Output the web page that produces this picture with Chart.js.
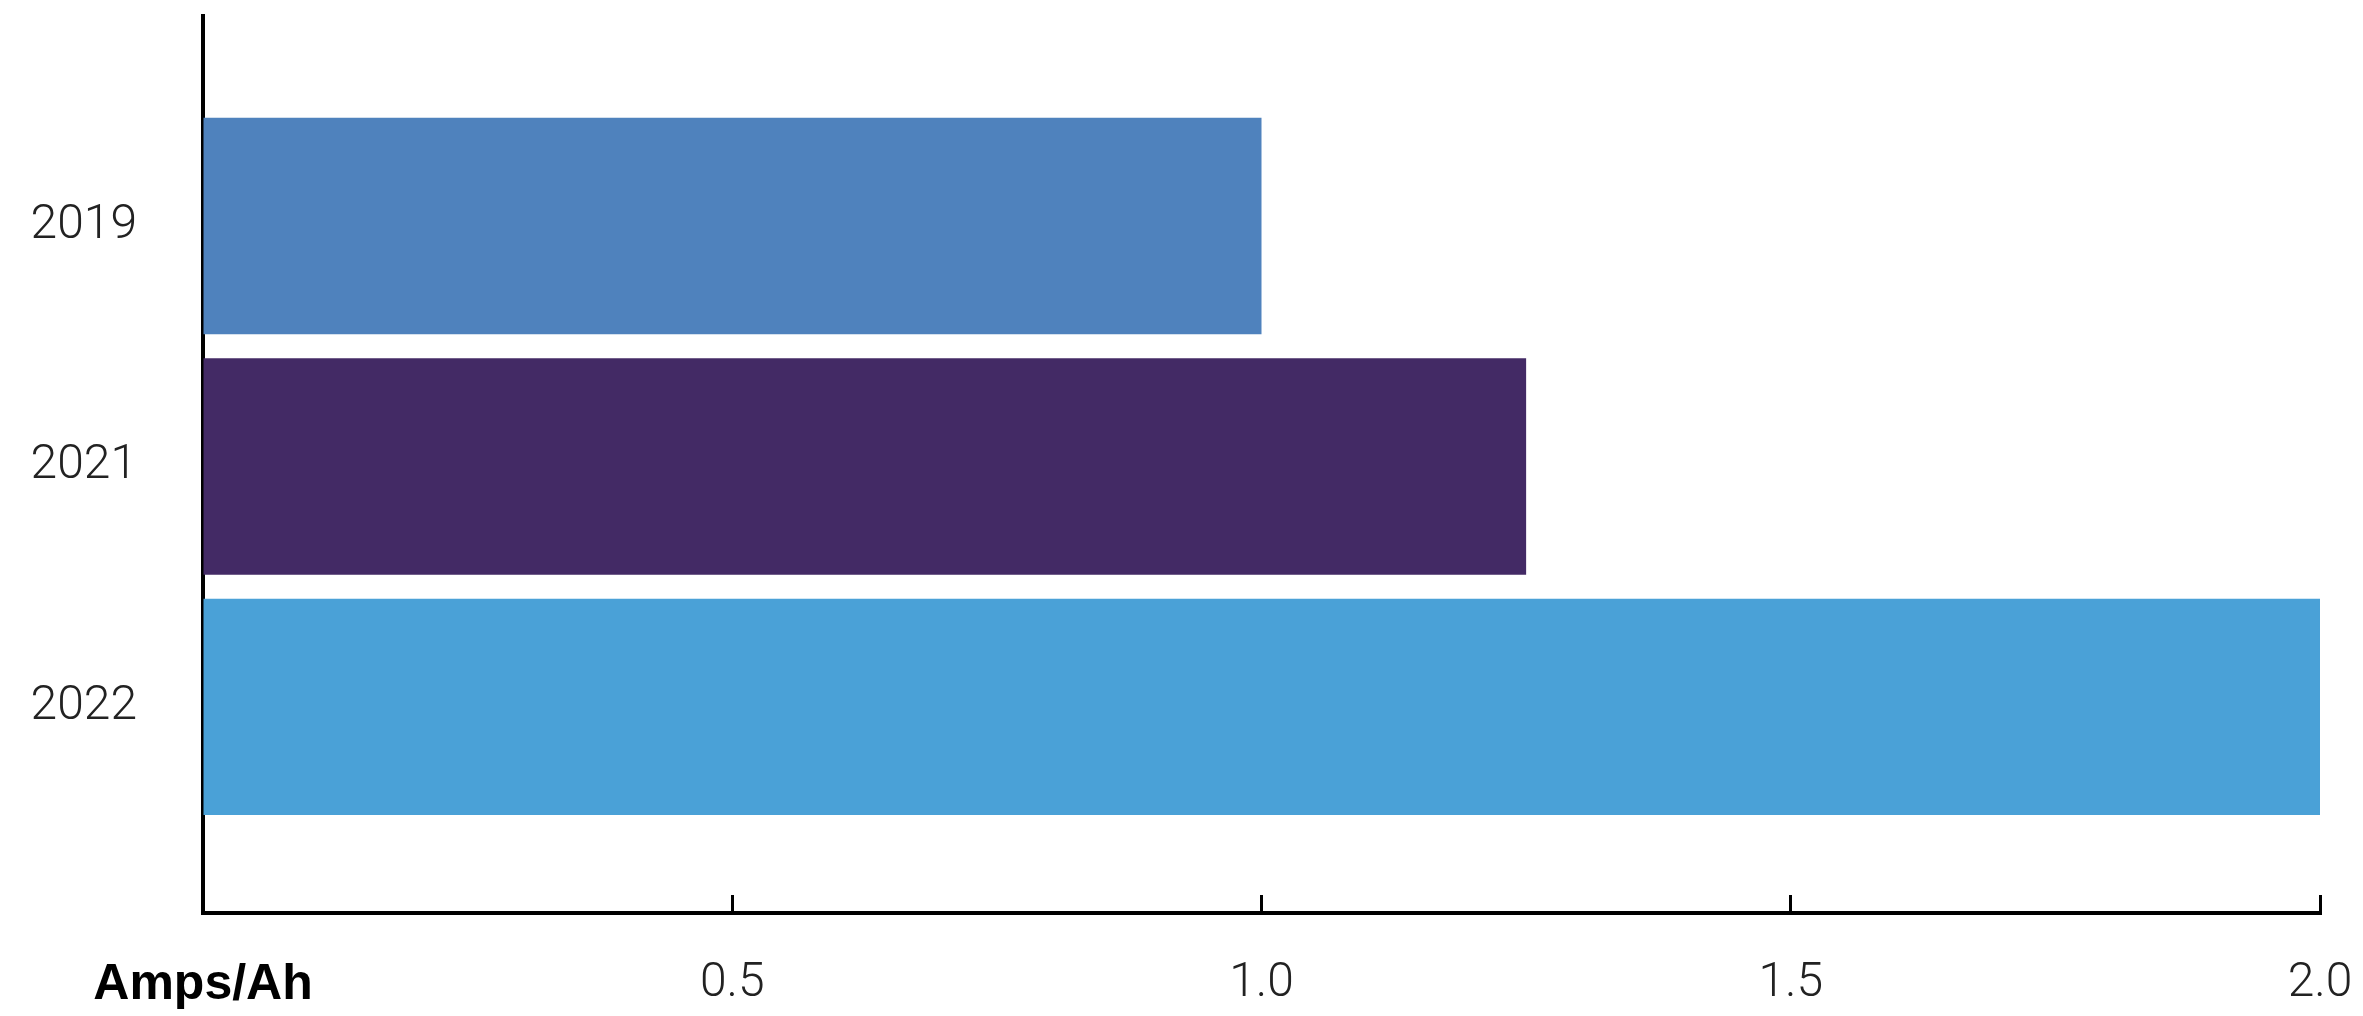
<!DOCTYPE html>
<html>
<head>
<meta charset="utf-8">
<script src="https://cdn.jsdelivr.net/npm/chart.js@4/dist/chart.umd.min.js"></script>
<style>
  html, body { margin: 0; padding: 0; background: #fff; }
  canvas { display: block; }
</style>
</head>
<body>
<canvas id="ampsChart" width="2363" height="1016"></canvas>
<script>
const years = ['2019', '2021', '2022'];
const ampsPerAh = [1.0, 1.25, 2.0];
const barColors = ['#4f82bd', '#432a65', '#4aa1d7'];
const xTicks = [0, 0.5, 1.0, 1.5, 2.0];
const xTitle = 'Amps/Ah';

const labelFont = "'Roboto', 'Liberation Sans', sans-serif";

// year rows sit on a numeric index axis so the axis can run past the bars
const points = ampsPerAh.map((v, i) => ({ x: v, y: i }));

const ctx = document.getElementById('ampsChart').getContext('2d');

new Chart(ctx, {
  type: 'bar',
  data: {
    datasets: [{
      data: points,
      backgroundColor: barColors,
      borderWidth: 0,
      barPercentage: 0.9,
      categoryPercentage: 1.0
    }]
  },
  options: {
    indexAxis: 'y',
    responsive: false,
    devicePixelRatio: 1,
    animation: false,
    layout: {
      padding: { top: 16, right: 43, left: 0, bottom: 0 }
    },
    plugins: {
      legend: { display: false },
      tooltip: { enabled: false }
    },
    scales: {
      x: {
        type: 'linear',
        min: 0,
        max: 2,
        afterBuildTicks: (scale) => {
          scale.ticks = xTicks.map(v => ({ value: v }));
        },
        afterFit: (scale) => {
          scale.height = 103;
          scale.paddingLeft = 0;
          scale.paddingRight = 0;
        },
        grid: {
          drawOnChartArea: false,
          drawTicks: true,
          tickLength: -18,
          tickWidth: 3,
          tickColor: '#000'
        },
        border: { display: true, color: '#000', width: 4 },
        ticks: {
          padding: 60,
          color: (c) => c.index === 0 ? '#000' : '#222',
          font: (c) => c.index === 0
            ? { family: "'Liberation Sans', Arial, sans-serif", size: 50, weight: 'bold' }
            : { family: labelFont, size: 48, weight: 300 },
          callback: (value) => value === 0 ? xTitle : value.toFixed(1)
        }
      },
      y: {
        type: 'linear',
        reverse: true,
        offset: false,
        min: -0.873,
        max: 2.857,
        afterBuildTicks: (scale) => {
          scale.ticks = years.map((_, i) => ({ value: i }));
        },
        afterFit: (scale) => {
          scale.width = 203;
          scale.paddingTop = 0;
          scale.paddingBottom = 0;
        },
        grid: { offset: false, drawOnChartArea: false, drawTicks: false },
        border: { display: true, color: '#000', width: 4 },
        ticks: {
          padding: 66,
          color: '#222',
          font: { family: labelFont, size: 48, weight: 300 },
          callback: (value) => years[value]
        }
      }
    }
  }
});
</script>
</body>
</html>
